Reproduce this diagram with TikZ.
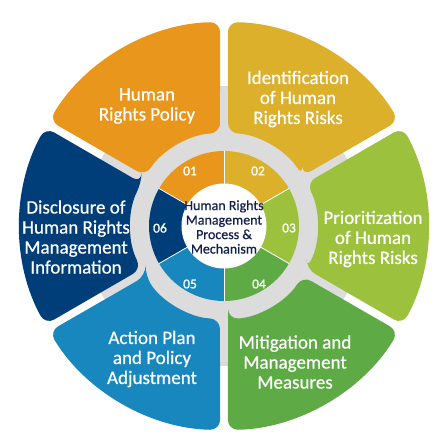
\documentclass[tikz,border=0pt]{standalone}
\usepackage{fontspec}
\setmainfont{Carlito}
\newfontfamily\outerfont{Carlito}[FakeBold=0.6]
\newfontfamily\numfont{Carlito}[FakeBold=1.2]
\definecolor{cA}{HTML}{E8961C}
\definecolor{cB}{HTML}{DCB02B}
\definecolor{cC}{HTML}{9CC23D}
\definecolor{cD}{HTML}{5EAB46}
\definecolor{cE}{HTML}{1887BD}
\definecolor{cF}{HTML}{003E7A}
\definecolor{ringgray}{HTML}{DCDCDC}
\definecolor{navytext}{HTML}{14204A}
\pgfdeclareradialshading{ringfade}{\pgfpointorigin}{color(0bp)=(ringgray); color(33bp)=(ringgray); color(50bp)=(white); color(100bp)=(white)}
\begin{document}
\begin{tikzpicture}[x=1pt,y=1pt,
  outertxt/.style={text=white, font=\outerfont\fontsize{19}{20}\selectfont, align=center, inner sep=0pt},
  numtxt/.style={text=white, font=\numfont\fontsize{13.5}{14}\selectfont, inner sep=0pt},
  centertxt/.style={text=navytext, font=\outerfont\fontsize{14}{14.5}\selectfont, align=center, inner sep=0pt}]
\useasboundingbox (-224,-221) rectangle (223,226);
\fill[white] (-224,-221) rectangle (223,226);
\shade[shading=ringfade] (0,0) circle[radius=140];
% outer segments
\foreach \a/\c in {90/cA,30/cB,-30/cC,-90/cD,-150/cE,150/cF}{
  \fill[\c, rounded corners=10pt] ({\a+2.5}:93) -- ({\a+1.1}:204)
    arc[start angle={\a+1.1}, end angle={\a+58.9}, radius=204]
    -- ({\a+57.5}:93)
    arc[start angle={\a+57.5}, end angle={\a+2.5}, radius=93] -- cycle;
}
% inner ring
\foreach \a/\c in {90/cA,30/cB,-30/cC,-90/cD,-150/cE,150/cF}{
  \fill[\c] (\a:42) -- (\a:75)
    arc[start angle=\a, end angle={\a+60}, radius=75]
    -- ({\a+60}:42) -- cycle;
}
\foreach \a in {90,30,-30,-90,-150,150}{
  \draw[white, line width=0.8pt] (\a:42) -- (\a:75);
}
\fill[white] (0,0) circle[radius=42.5];
\node[centertxt] (center) at (0,-1) {Human Rights\\Management\\Process \&\\Mechanism};
% numbers
\node[numtxt] (n1) at (-34,55) {01};
\node[numtxt] (n2) at (34,55) {02};
\node[numtxt] (n3) at (65,-2) {03};
\node[numtxt] (n4) at (35,-58) {04};
\node[numtxt] (n5) at (-34,-58) {05};
\node[numtxt] (n6) at (-64,-2) {06};
% outer labels
\node[outertxt] (t1) at (-77,120) {Human\\Rights Policy};
\node[outertxt] (t2) at (74,127) {Identification\\of Human\\Rights Risks};
\node[outertxt] (t3) at (149,-13) {Prioritization\\of Human\\Rights Risks};
\node[outertxt] (t4) at (71,-136) {Mitigation and\\Management\\Measures};
\node[outertxt] (t5) at (-72,-133) {Action Plan\\and Policy\\Adjustment};
\node[outertxt] (t6) at (-148,-11) {Disclosure of\\Human Rights\\Management\\Information};
\end{tikzpicture}
\end{document}
